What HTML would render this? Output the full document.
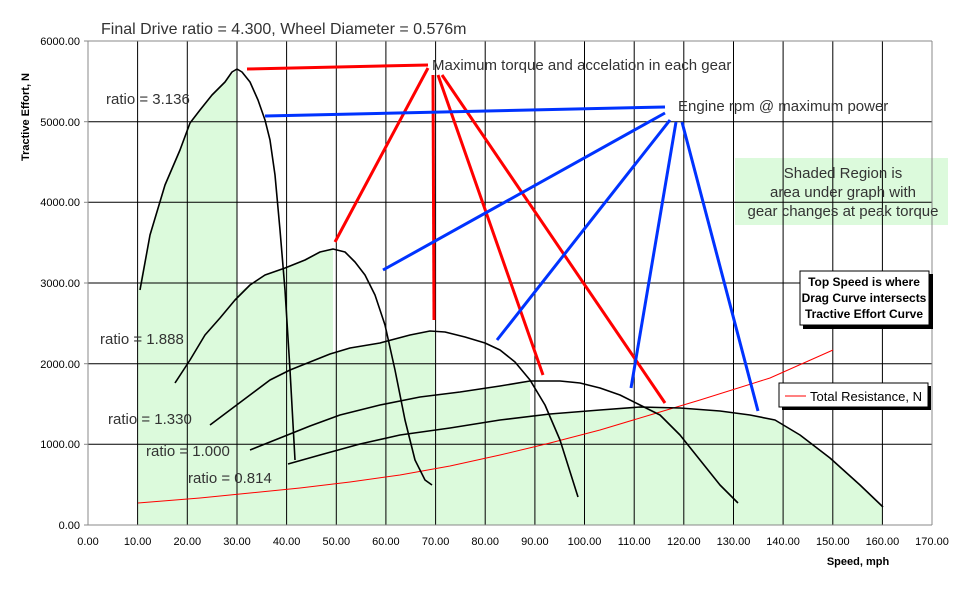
<!DOCTYPE html>
<html><head><meta charset="utf-8"><style>
body{margin:0;background:#fff;}
svg{display:block;font-family:"Liberation Sans",Arial,sans-serif;}
</style></head><body>
<svg width="975" height="599" viewBox="0 0 975 599" xmlns="http://www.w3.org/2000/svg">
<rect width="975" height="599" fill="#fff"/>
<!-- shaded region -->
<path fill="#dcfadc" d="M138,525 L138,290 L150,235 L165,185 L180,150 L190,123 L200,110 L212,95 L225,82 L237,69 L237,293 L250,285 L265,275 L285,268 L305,260 L320,252 L333,249 L333,353 L350,348 L380,343 L410,335 L435,331 L435,394 L460,392 L500,386 L530,381 L530,415 L550,414 L600,410 L640,407 L680,408 L720,411 L750,415 L775,420 L800,435 L830,458 L860,485 L883,507 L883,525 Z"/>
<!-- green note box -->
<rect x="735" y="158" width="213" height="67" fill="#dcfadc"/>
<!-- grid -->
<g stroke="#000" stroke-width="1">
<line x1="88" y1="444.3" x2="932" y2="444.3"/><line x1="88" y1="363.7" x2="932" y2="363.7"/><line x1="88" y1="283" x2="932" y2="283"/><line x1="88" y1="202.3" x2="932" y2="202.3"/><line x1="88" y1="121.7" x2="932" y2="121.7"/>
<line x1="137.6" y1="41" x2="137.6" y2="525"/><line x1="187.3" y1="41" x2="187.3" y2="525"/><line x1="237" y1="41" x2="237" y2="525"/><line x1="286.6" y1="41" x2="286.6" y2="525"/><line x1="336.3" y1="41" x2="336.3" y2="525"/><line x1="385.9" y1="41" x2="385.9" y2="525"/><line x1="435.6" y1="41" x2="435.6" y2="525"/><line x1="485.2" y1="41" x2="485.2" y2="525"/><line x1="534.9" y1="41" x2="534.9" y2="525"/><line x1="584.5" y1="41" x2="584.5" y2="525"/><line x1="634.2" y1="41" x2="634.2" y2="525"/><line x1="683.8" y1="41" x2="683.8" y2="525"/><line x1="733.5" y1="41" x2="733.5" y2="525"/><line x1="783.1" y1="41" x2="783.1" y2="525"/><line x1="832.8" y1="41" x2="832.8" y2="525"/><line x1="882.4" y1="41" x2="882.4" y2="525"/>
</g>
<g stroke="#888" stroke-width="1" fill="none">
<line x1="88" y1="41" x2="932" y2="41"/><line x1="932" y1="41" x2="932" y2="525"/>
<line x1="88" y1="41" x2="88" y2="525"/><line x1="88" y1="525" x2="932" y2="525"/>
</g>
<!-- ticks -->
<g stroke="#888">
<line x1="84" y1="41" x2="88" y2="41"/><line x1="84" y1="121.7" x2="88" y2="121.7"/><line x1="84" y1="202.3" x2="88" y2="202.3"/><line x1="84" y1="283" x2="88" y2="283"/><line x1="84" y1="363.7" x2="88" y2="363.7"/><line x1="84" y1="444.3" x2="88" y2="444.3"/><line x1="84" y1="525" x2="88" y2="525"/>
</g>
<!-- axis labels -->
<g font-size="11" fill="#000" text-anchor="end">
<text x="80" y="45">6000.00</text><text x="80" y="126">5000.00</text><text x="80" y="206">4000.00</text><text x="80" y="287">3000.00</text><text x="80" y="368">2000.00</text><text x="80" y="448">1000.00</text><text x="80" y="529">0.00</text>
</g>
<g font-size="11" fill="#000" text-anchor="middle">
<text x="88" y="545">0.00</text><text x="137.6" y="545">10.00</text><text x="187.3" y="545">20.00</text><text x="237" y="545">30.00</text><text x="286.6" y="545">40.00</text><text x="336.3" y="545">50.00</text><text x="385.9" y="545">60.00</text><text x="435.6" y="545">70.00</text><text x="485.2" y="545">80.00</text><text x="534.9" y="545">90.00</text><text x="584.5" y="545">100.00</text><text x="634.2" y="545">110.00</text><text x="683.8" y="545">120.00</text><text x="733.5" y="545">130.00</text><text x="783.1" y="545">140.00</text><text x="832.8" y="545">150.00</text><text x="882.4" y="545">160.00</text><text x="932" y="545">170.00</text>
</g>
<text x="858" y="565" font-size="11" font-weight="bold" text-anchor="middle">Speed, mph</text>
<text transform="translate(29,117) rotate(-90)" font-size="11" font-weight="bold" text-anchor="middle">Tractive Effort, N</text>
<text x="101" y="34" font-size="16" fill="#333">Final Drive ratio = 4.300, Wheel Diameter = 0.576m</text>
<!-- drag curve -->
<path fill="none" stroke="#f00" stroke-width="1" d="M138,503 L200,498 L250,493 L300,488 L350,482 L400,475 L450,466 L500,455 L550,443 L600,430 L650,415 L700,400 L770,378 L833,350"/>
<!-- gear curves -->
<g fill="none" stroke="#000" stroke-width="1.6" stroke-linejoin="round">
<path d="M140,290 L150,235 L165,185 L180,150 L190,123 L200,110 L212,95 L225,82 L232,72 L237,69 L242,72 L250,82 L258,100 L265,120 L270,140 L275,175 L280,230 L285,290 L290,370 L295,460"/>
<path d="M175,383 L190,360 L205,335 L220,318 L235,300 L250,285 L265,275 L285,268 L305,260 L320,252 L333,249 L345,252 L355,262 L365,275 L375,295 L385,325 L395,370 L405,420 L415,460 L425,480 L432,485"/>
<path d="M210,425 L230,410 L250,395 L270,380 L290,370 L310,362 L330,354 L350,348 L380,343 L410,335 L430,331 L445,332 L465,337 L485,343 L500,350 L515,362 L530,380 L545,405 L560,440 L578,497"/>
<path d="M250,450 L280,438 L310,426 L340,415 L380,405 L420,397 L460,392 L500,386 L530,381 L560,381 L580,383 L600,388 L620,395 L640,405 L660,415 L680,435 L700,460 L720,485 L738,503"/>
<path d="M288,464 L320,455 L360,444 L400,435 L450,428 L500,420 L550,414 L600,410 L640,407 L680,408 L720,411 L750,415 L775,420 L800,435 L830,458 L860,485 L883,507"/>
</g>
<!-- annotation lines -->
<g stroke="#f00" stroke-width="3" fill="none">
<line x1="247" y1="69" x2="428" y2="65"/>
<line x1="428" y1="68" x2="335" y2="242"/>
<line x1="433" y1="75" x2="434" y2="320"/>
<line x1="438" y1="75" x2="543" y2="375"/>
<line x1="442" y1="75" x2="665" y2="403"/>
</g>
<g stroke="#0033ff" stroke-width="3" fill="none">
<line x1="265" y1="116" x2="665" y2="107"/>
<line x1="665" y1="113" x2="383" y2="270"/>
<line x1="670" y1="120" x2="497" y2="340"/>
<line x1="676" y1="122" x2="631" y2="388"/>
<line x1="682" y1="122" x2="758" y2="411"/>
</g>
<text x="432" y="70" font-size="15" fill="#333">Maximum torque and accelation in each gear</text>
<text x="678" y="111" font-size="15" fill="#333">Engine rpm @ maximum power</text>
<g font-size="15" fill="#333" text-anchor="middle">
<text x="843" y="178">Shaded Region is</text>
<text x="843" y="197">area under graph with</text>
<text x="843" y="216">gear changes at peak torque</text>
</g>
<g font-size="15" fill="#333">
<text x="106" y="104">ratio = 3.136</text>
<text x="100" y="344">ratio = 1.888</text>
<text x="108" y="424">ratio = 1.330</text>
<text x="146" y="456">ratio = 1.000</text>
<text x="188" y="483">ratio = 0.814</text>
</g>
<!-- top speed box -->
<rect x="803" y="274" width="130" height="55" fill="#000"/>
<rect x="800" y="271" width="129" height="54" fill="#fff" stroke="#000" stroke-width="1"/>
<g font-size="12" font-weight="bold" text-anchor="middle">
<text x="864" y="286">Top Speed is where</text>
<text x="864" y="302">Drag Curve intersects</text>
<text x="864" y="318">Tractive Effort Curve</text>
</g>
<!-- legend -->
<rect x="782" y="386" width="149" height="24" fill="#000"/>
<rect x="779" y="383" width="149" height="24" fill="#fff" stroke="#000" stroke-width="1"/>
<line x1="785" y1="396" x2="806" y2="396" stroke="#f00" stroke-width="1"/>
<text x="810" y="401" font-size="13" fill="#000">Total Resistance, N</text>
</svg>
</body></html>
